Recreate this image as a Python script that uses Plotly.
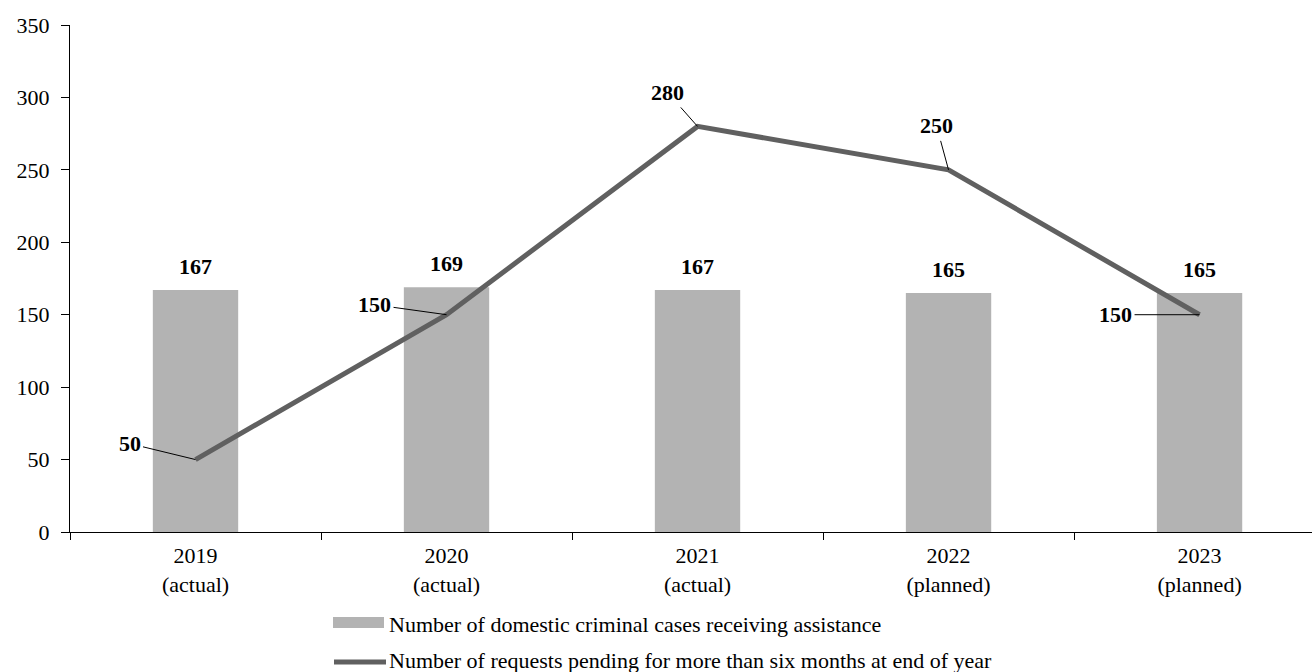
import plotly.graph_objects as go

# Chart data
categories = ["2019<br>(actual)", "2020<br>(actual)", "2021<br>(actual)",
              "2022<br>(planned)", "2023<br>(planned)"]
cases_assisted = [167, 169, 167, 165, 165]
requests_pending = [50, 150, 280, 250, 150]
bar_name = "Number of domestic criminal cases receiving assistance"
line_name = "Number of requests pending for more than six months at end of year"

# Pixel offsets of each line label from its point
line_label_offsets = [(-66, -16), (-72, -10), (-30, -34), (-12, -44), (-84, 0)]

FONT = "Liberation Serif, Times New Roman, serif"
FS = 22
BAR_COLOR = "#b3b3b3"
LINE_COLOR = "#606060"

W, H = 1312, 672
ML, MR, MT, MB = 70, 0, 25, 140
PW, PH = W - ML - MR, H - MT - MB


def px_x(x):
    return (x - ML) / PW


def px_y(y):
    return (H - MB - y) / PH


fig = go.Figure()
fig.add_trace(go.Bar(
    x=categories, y=cases_assisted, name=bar_name,
    marker=dict(color=BAR_COLOR, line=dict(width=0)),
    width=0.34, showlegend=False,
))
fig.add_trace(go.Scatter(
    x=categories, y=requests_pending, name=line_name, mode="lines",
    line=dict(color=LINE_COLOR, width=5), showlegend=False,
))

annotations = []
# Bar value labels
for c, v in zip(categories, cases_assisted):
    annotations.append(dict(
        x=c, y=v, text=f"<b>{v}</b>", showarrow=False,
        yanchor="bottom", yshift=9,
        font=dict(family=FONT, size=FS, color="black"),
    ))
# Line value labels with leader lines
for c, v, (ax, ay) in zip(categories, requests_pending, line_label_offsets):
    annotations.append(dict(
        x=c, y=v, text=f"<b>{v}</b>", showarrow=True,
        arrowhead=0, arrowwidth=1, arrowcolor="black", standoff=0,
        ax=ax, ay=ay, borderpad=2,
        font=dict(family=FONT, size=FS, color="black"),
    ))

# Legend entries
shapes = [
    dict(type="rect", xref="paper", yref="paper",
         x0=px_x(333), x1=px_x(384), y0=px_y(628), y1=px_y(617),
         fillcolor=BAR_COLOR, line=dict(width=0)),
    dict(type="line", xref="paper", yref="paper",
         x0=px_x(334), x1=px_x(386), y0=px_y(662), y1=px_y(662),
         line=dict(color=LINE_COLOR, width=5)),
]
annotations.append(dict(
    xref="paper", yref="paper", x=px_x(387), y=px_y(624),
    xanchor="left", yanchor="middle", showarrow=False, text=bar_name,
    font=dict(family=FONT, size=FS, color="black"),
))
annotations.append(dict(
    xref="paper", yref="paper", x=px_x(387), y=px_y(660),
    xanchor="left", yanchor="middle", showarrow=False, text=line_name,
    font=dict(family=FONT, size=FS, color="black"),
))

fig.update_layout(
    width=W, height=H,
    margin=dict(l=ML, r=MR, t=MT, b=MB),
    plot_bgcolor="white", paper_bgcolor="white",
    font=dict(family=FONT, size=FS, color="black"),
    annotations=annotations, shapes=shapes,
    showlegend=False,
)
fig.update_xaxes(
    type="category", range=[-0.5, 4.448],
    showline=True, linecolor="black", linewidth=1,
    ticks="outside", tickson="boundaries", ticklen=7, tickcolor="black",
    ticklabelstandoff=4,
    showgrid=False, zeroline=False,
    tickfont=dict(family=FONT, size=FS, color="black"),
)
fig.update_yaxes(
    range=[0, 350], dtick=50,
    showline=True, linecolor="black", linewidth=1,
    ticks="outside", ticklen=8, tickcolor="black",
    ticklabelstandoff=7,
    showgrid=False, zeroline=False,
    tickfont=dict(family=FONT, size=FS, color="black"),
)

fig.write_html("out.html")
